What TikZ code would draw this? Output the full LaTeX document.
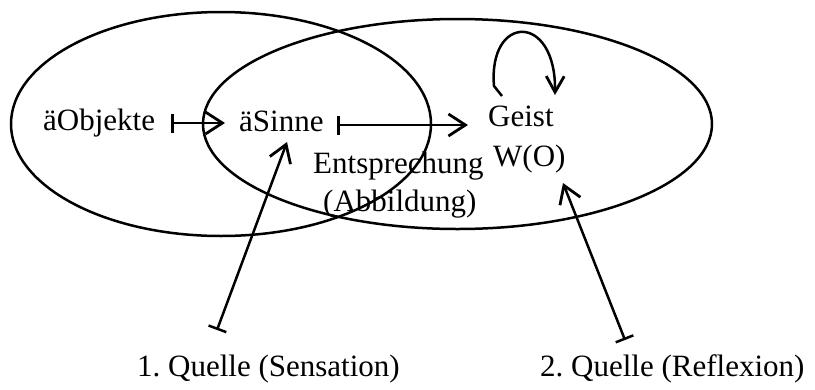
\documentclass[tikz,border=0pt]{standalone}
\usepackage{fontspec}
\setmainfont{Liberation Serif}
\usetikzlibrary{arrows.meta}
\begin{document}
\frenchspacing
\begin{tikzpicture}[x=1pt,y=-1pt,
  lbl/.style={anchor=base west,inner sep=0pt,font=\fontsize{31}{36}\selectfont},
  ring/.style={line width=2.5pt},
  conn/.style={line width=2.5pt,{Bar[width=19pt,line width=2.5pt]}-{Straight Barb[length=17pt,width=22pt,line width=2.8pt]}},
  loopar/.style={line width=2.5pt,line join=round,-{Straight Barb[length=16pt,width=18pt,line width=2.8pt]}}]
\useasboundingbox (0,0) rectangle (815,389);
% ellipses
\draw[ring] (221,124) ellipse [x radius=210, y radius=112];
\draw[ring] (457.5,124) ellipse [x radius=254.5, y radius=105];
% labels
\node[lbl] (obj) at (43,130) {äObjekte};
\node[lbl] (sinne) at (239,131) {äSinne};
\node[lbl] (geist) at (488,126) {Geist};
\node[lbl] (wo) at (493,166) {W(O)};
\node[lbl] (ent) at (313,173) {Entsprechung};
\node[lbl] (abb) at (323,211) {(Abbildung)};
\node[lbl] (q1) at (137,376) {1. Quelle (Sensation)};
\node[lbl] (q2) at (540,376) {2. Quelle (Reflexion)};
% connector points
\coordinate (objR) at (171,123);
\coordinate (sinL) at (225,123);
\coordinate (sinR) at (337,125);
\coordinate (geiL) at (468,125);
\coordinate (loopS) at (502,96);
\coordinate (loopK) at (494,86);
\coordinate (loopE) at (555,95);
\coordinate (sensS) at (217,330);
\coordinate (sinB) at (287,142);
\coordinate (reflS) at (625,340);
\coordinate (woB) at (563,183);
% connectors
\draw[conn] (objR) -- (sinL);
\draw[conn] (sinR) -- (geiL);
\draw[loopar] (loopS) -- (loopK) .. controls (488,14) and (556,12) .. (loopE);
\draw[conn] (sensS) -- (sinB);
\draw[conn] (reflS) -- (woB);
\end{tikzpicture}
\end{document}
